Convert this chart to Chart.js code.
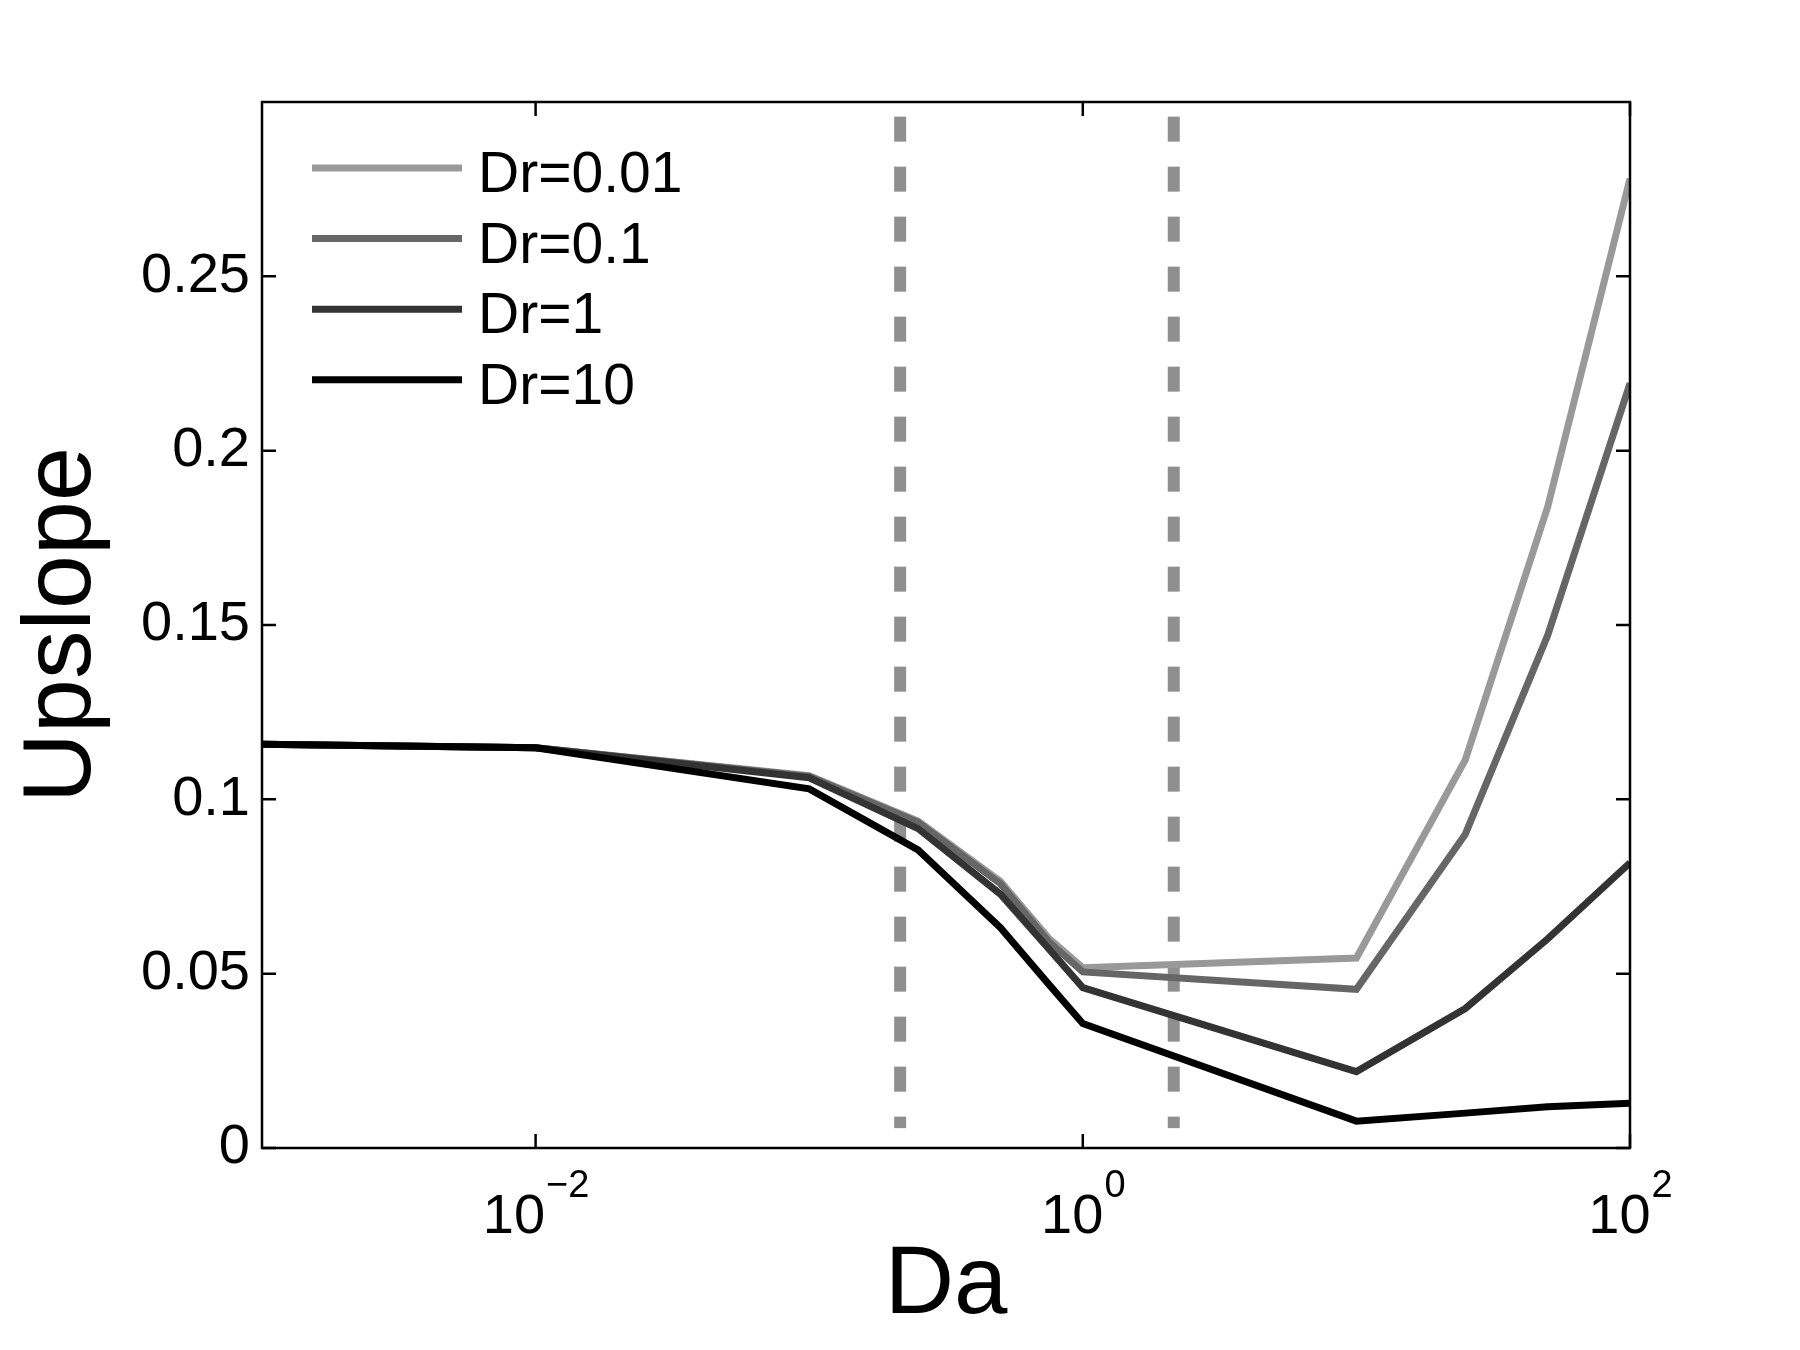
<!DOCTYPE html>
<html>
<head>
<meta charset="utf-8">
<script src="https://cdn.jsdelivr.net/npm/chart.js@4.4.1/dist/chart.umd.min.js"></script>
<style>
  html, body { margin: 0; padding: 0; background: #fff; }
  #wrap { width: 1800px; height: 1350px; }
</style>
</head>
<body>
<div id="wrap"><canvas id="upslopeChart"></canvas></div>
<script>
// Upslope vs Da, one line per Dr
const daValues = [0.001, 0.01, 0.1, 0.25, 0.5, 0.75, 1, 10, 25, 50, 100];
const upslopeDr001 = [0.1158, 0.1148, 0.1068, 0.0938, 0.0765, 0.0602, 0.0517, 0.0545, 0.1113, 0.1838, 0.2780];
const upslopeDr01 = [0.1158, 0.1148, 0.1066, 0.0934, 0.0758, 0.0592, 0.0505, 0.0455, 0.0900, 0.1470, 0.2193];
const upslopeDr1 = [0.1158, 0.1148, 0.1062, 0.0916, 0.0728, 0.0572, 0.0460, 0.0219, 0.0400, 0.0600, 0.0818];
const upslopeDr10 = [0.1158, 0.1148, 0.1030, 0.0855, 0.0632, 0.0470, 0.0357, 0.0077, 0.0100, 0.0118, 0.0128];
const seriesLabels = ['Dr=0.01', 'Dr=0.1', 'Dr=1', 'Dr=10'];

// dashed reference lines
const markerDa = [0.215, 2.15];
const markerRange = [0.2958, 0.0057];

const xTickValues = [0.01, 1, 100];
const yTickValues = [0, 0.05, 0.1, 0.15, 0.2, 0.25];
const yTickLabels = ['0', '0.05', '0.1', '0.15', '0.2', '0.25'];

const FONT = "'Liberation Sans', Arial, Helvetica, sans-serif";
const colors = ['#999999', '#666666', '#333333', '#000000'];

function points(ys) {
  return daValues.map((x, i) => ({ x: x, y: ys[i] }));
}

const series = [upslopeDr001, upslopeDr01, upslopeDr1, upslopeDr10];
const datasets = series.map((ys, i) => ({
  label: seriesLabels[i],
  data: points(ys),
  borderColor: colors[i],
  borderWidth: 7,
  pointRadius: 0,
  tension: 0,
  order: 4 - i,
  inLegend: true
}));

markerDa.forEach(x => {
  datasets.push({
    label: '',
    data: markerRange.map(y => ({ x: x, y: y })),
    borderColor: '#8f8f8f',
    borderWidth: 12,
    borderDash: [25, 25],
    borderCapStyle: 'butt',
    pointRadius: 0,
    order: 10,
    inLegend: false
  });
});

// box, inner ticks, x labels with exponents, legend
const framePlugin = {
  id: 'frame',
  afterDatasetsDraw(chart) {
    const ctx = chart.ctx;
    const a = chart.chartArea;
    const xs = chart.scales.x, ys = chart.scales.y;
    const tl = 14;
    ctx.save();
    ctx.strokeStyle = '#000';
    ctx.lineWidth = 2.5;
    ctx.strokeRect(a.left, a.top, a.right - a.left, a.bottom - a.top);
    ctx.beginPath();
    yTickValues.forEach(v => {
      const py = ys.getPixelForValue(v);
      ctx.moveTo(a.left, py); ctx.lineTo(a.left + tl, py);
      ctx.moveTo(a.right, py); ctx.lineTo(a.right - tl, py);
    });
    xTickValues.forEach(v => {
      const px = xs.getPixelForValue(v);
      ctx.moveTo(px, a.bottom); ctx.lineTo(px, a.bottom - tl);
      ctx.moveTo(px, a.top); ctx.lineTo(px, a.top + tl);
    });
    ctx.stroke();

    // x tick labels: 10 with superscript exponent
    ctx.fillStyle = '#000';
    ctx.textBaseline = 'alphabetic';
    ctx.textAlign = 'left';
    xTickValues.forEach(v => {
      const e = Math.round(Math.log10(v));
      const expText = e < 0 ? '\u2212' + Math.abs(e) : String(e);
      ctx.font = '56px ' + FONT;
      const wb = ctx.measureText('10').width;
      ctx.font = '38px ' + FONT;
      const we = ctx.measureText(expText).width;
      const x0 = xs.getPixelForValue(v) - (wb + we) / 2;
      ctx.font = '56px ' + FONT;
      ctx.fillText('10', x0, a.bottom + 85);
      ctx.font = '38px ' + FONT;
      ctx.fillText(expText, x0 + wb + 1, a.bottom + 49);
    });

    // legend inside the axes
    let row = 0;
    chart.data.datasets.forEach(ds => {
      if (!ds.inLegend) return;
      const y = a.top + 66 + row * 70.6;
      ctx.strokeStyle = ds.borderColor;
      ctx.lineWidth = ds.borderWidth;
      ctx.beginPath();
      ctx.moveTo(a.left + 50, y);
      ctx.lineTo(a.left + 200, y);
      ctx.stroke();
      ctx.font = '57px ' + FONT;
      ctx.fillStyle = '#000';
      ctx.fillText(ds.label, a.left + 216, y + 24);
      row++;
    });
    ctx.restore();
  }
};

const ctx = document.getElementById('upslopeChart').getContext('2d');
const upslopeChart = new Chart(ctx, {
  type: 'line',
  data: { datasets: datasets },
  options: {
    responsive: true,
    maintainAspectRatio: false,
    animation: false,
    layout: { padding: { top: 102, right: 170, left: 0, bottom: 0 } },
    plugins: {
      legend: { display: false },
      tooltip: { enabled: false }
    },
    scales: {
      x: {
        type: 'logarithmic',
        min: 0.001,
        max: 100,
        grid: { display: false, drawTicks: false },
        border: { display: false },
        ticks: { display: false },
        afterBuildTicks(scale) { scale.ticks = xTickValues.map(v => ({ value: v })); },
        afterFit(scale) { scale.height = 202; },
        title: {
          display: true,
          text: 'Da',
          color: '#000',
          font: { family: FONT, size: 96, lineHeight: 1 },
          padding: { top: 0, bottom: 15 }
        }
      },
      y: {
        type: 'linear',
        min: 0,
        max: 0.3,
        grid: { display: false, drawTicks: false },
        border: { display: false },
        afterBuildTicks(scale) { scale.ticks = yTickValues.map(v => ({ value: v })); },
        afterFit(scale) { scale.width = 262; },
        ticks: {
          color: '#000',
          padding: 12,
          font: { family: FONT, size: 56 },
          callback: (v, i) => yTickLabels[i]
        },
        title: {
          display: true,
          text: 'Upslope',
          color: '#000',
          font: { family: FONT, size: 97, lineHeight: 1 },
          padding: { top: 15, bottom: 0 }
        }
      }
    }
  },
  plugins: [framePlugin]
});
</script>
</body>
</html>
